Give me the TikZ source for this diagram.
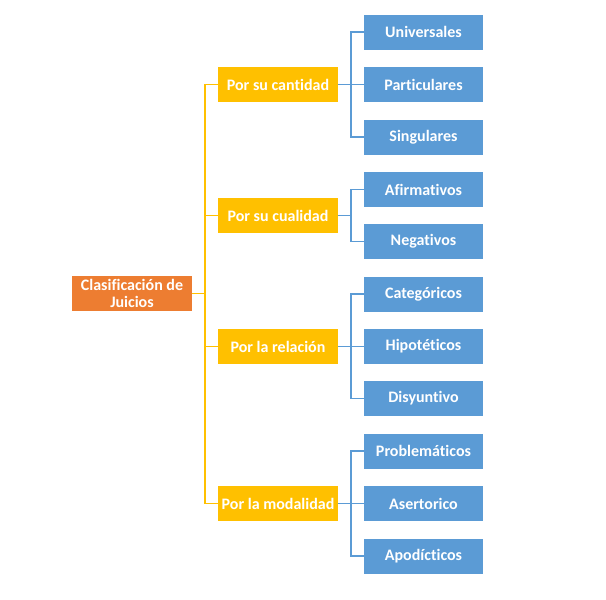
\documentclass[tikz,border=0pt]{standalone}
\usepackage{fontspec}
\setmainfont[Ligatures=NoCommon]{Carlito}
\definecolor{rootc}{HTML}{ED7D31}
\definecolor{midc}{HTML}{FFC000}
\definecolor{leafc}{HTML}{5B9BD5}
\begin{document}
\begin{tikzpicture}[x=1pt,y=-1pt,
  box/.style={minimum width=120pt,minimum height=35pt,inner sep=0pt,text=white,font=\fontsize{16pt}{17pt}\selectfont\bfseries,align=center},
  rootbox/.style={box,fill=rootc},
  midbox/.style={box,fill=midc},
  leafbox/.style={box,minimum width=119pt,fill=leafc},
  yline/.style={draw=midc,line width=1.6pt},
  bline/.style={draw=leafc,line width=1.6pt}]
\useasboundingbox (0,0) rectangle (606,600);
\node[rootbox] (root) at (132,293.5) {Clasificación de\\Juicios};
\node[midbox] (m1) at (278,84.5) {Por su cantidad};
\node[midbox] (m2) at (278,215.5) {Por su cualidad};
\node[midbox] (m3) at (278,346.5) {Por la relación};
\node[midbox] (m4) at (278,503.5) {Por la modalidad};
\node[leafbox] (l1) at (423.5,32) {Universales};
\node[leafbox] (l2) at (423.5,84.5) {Particulares};
\node[leafbox] (l3) at (423.5,137) {Singulares};
\node[leafbox] (l4) at (423.5,189.5) {Afirmativos};
\node[leafbox] (l5) at (423.5,241.5) {Negativos};
\node[leafbox] (l6) at (423.5,294) {Categóricos};
\node[leafbox] (l7) at (423.5,346.5) {Hipotéticos};
\node[leafbox] (l8) at (423.5,398.5) {Disyuntivo};
\node[leafbox] (l9) at (423.5,451) {Problemáticos};
\node[leafbox] (l10) at (423.5,503.5) {Asertorico};
\node[leafbox] (l11) at (423.5,556) {Apodícticos};
% trunk
\coordinate (tr) at (205,293.5);
\draw[yline] (root.east) -- (tr);
\draw[yline] (m1.west) -- ++(-13,0) |- (m4.west);
\foreach \m in {m2,m3} \draw[yline] (\m.west) -- ++(-13,0);
% brackets
\draw[bline] (m1.east) -- ++(13,0);
\draw[bline] (l1.west) -- ++(-13,0) |- (l3.west);
\draw[bline] (l2.west) -- ++(-13,0);
\draw[bline] (m2.east) -- ++(13,0);
\draw[bline] (l4.west) -- ++(-13,0) |- (l5.west);
\draw[bline] (m3.east) -- ++(13,0);
\draw[bline] (l6.west) -- ++(-13,0) |- (l8.west);
\draw[bline] (l7.west) -- ++(-13,0);
\draw[bline] (m4.east) -- ++(13,0);
\draw[bline] (l9.west) -- ++(-13,0) |- (l11.west);
\draw[bline] (l10.west) -- ++(-13,0);
\end{tikzpicture}
\end{document}
